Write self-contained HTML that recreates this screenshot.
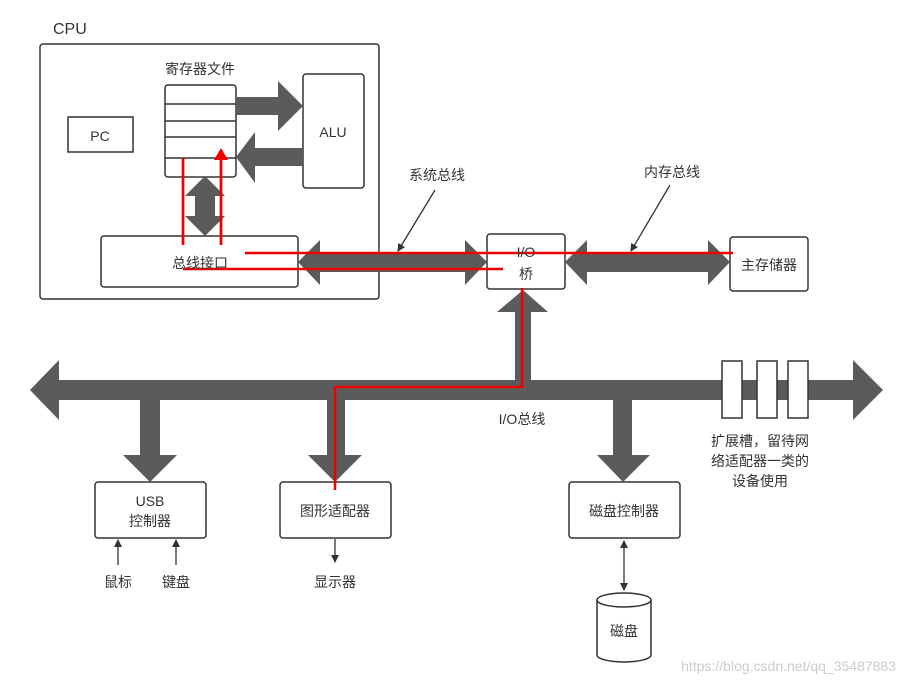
<!DOCTYPE html>
<html><head><meta charset="utf-8"><style>
body{margin:0;background:#fff}
text{font-family:"Liberation Sans","Noto Sans CJK SC",sans-serif;fill:#333;font-size:14px}
</style></head><body>
<svg width="905" height="685" xmlns="http://www.w3.org/2000/svg">
<defs><marker id="a" markerWidth="8" markerHeight="8" refX="7" refY="4" orient="auto" markerUnits="userSpaceOnUse"><path d="M0,0 L8,4 L0,8 Z" fill="#333"/></marker>
<marker id="b" markerWidth="8" markerHeight="8" refX="1" refY="4" orient="auto" markerUnits="userSpaceOnUse"><path d="M8,0 L0,4 L8,8 Z" fill="#333"/></marker></defs>
<g fill="none" stroke="#333" stroke-width="1.5">
<rect x="40" y="44" width="339" height="255" rx="3"/>
<rect x="68" y="117" width="65" height="35"/>
<rect x="165" y="85" width="71" height="92" rx="3"/>
<line x1="165" y1="104" x2="236" y2="104"/><line x1="165" y1="121" x2="236" y2="121"/><line x1="165" y1="137" x2="236" y2="137"/><line x1="165" y1="158" x2="236" y2="158"/>
<rect x="303" y="74" width="61" height="114" rx="3"/>
<rect x="101" y="236" width="197" height="51" rx="3"/>
<rect x="487" y="234" width="78" height="55" rx="3"/>
<rect x="730" y="237" width="78" height="54" rx="3"/>
<rect x="95" y="482" width="111" height="56" rx="3"/>
<rect x="280" y="482" width="111" height="56" rx="3"/>
<rect x="569" y="482" width="111" height="56" rx="3"/>
</g>
<g stroke="#e00" stroke-width="2.5" fill="none">
<line x1="183" y1="158" x2="183" y2="245"/>
<line x1="221" y1="158" x2="221" y2="245"/>
</g>
<g fill="#5b5b5b">
<polygon points="236,97 278,97 278,81 303,106 278,131 278,115 236,115"/>
<polygon points="303,148 255,148 255,132 236,157 255,183 255,166 303,166"/>
<polygon points="205,176 225,196 215,196 215,216 225,216 205,236 185,216 195,216 195,196 185,196"/>
<polygon points="298,262 320,240 320,252 465,252 465,240 487,262 465,285 465,272 320,272 320,285"/>
<polygon points="565,262 587,240 587,252 708,252 708,240 730,262 708,285 708,272 587,272 587,285"/>
<polygon points="30,390 59,360 59,380 853,380 853,360 883,390 853,420 853,400 59,400 59,420"/>
<polygon points="515,380 515,312 497,312 523,290 548,312 531,312 531,380"/>
<polygon points="140,400 160,400 160,455 177,455 150,482 123,455 140,455"/>
<polygon points="327,400 345,400 345,455 362,455 335,482 308,455 327,455"/>
<polygon points="613,400 632,400 632,455 650,455 623,482 597,455 613,455"/>
</g>
<g fill="#fff" stroke="#333" stroke-width="1.5">
<rect x="722" y="361" width="20" height="57"/><rect x="757" y="361" width="20" height="57"/><rect x="788" y="361" width="20" height="57"/>
<path d="M597,600 L597,655 A27,7 0 0 0 651,655 L651,600"/>
<ellipse cx="624" cy="600" rx="27" ry="7"/>
</g>
<g stroke="#e00" stroke-width="2.5" fill="none">
<line x1="183" y1="158" x2="183" y2="245"/>
<line x1="221" y1="158" x2="221" y2="245"/>
<line x1="245" y1="253" x2="733" y2="253"/>
<line x1="183" y1="269" x2="503" y2="269"/>
<polyline points="335,490 335,387 522,387 522,288"/>
</g>
<polygon points="214,160 221,148 228,160" fill="#e00"/>
<g stroke="#333" stroke-width="1.3" fill="none">
<line x1="435" y1="190" x2="398" y2="251" marker-end="url(#a)"/>
<line x1="670" y1="185" x2="631" y2="251" marker-end="url(#a)"/>
<line x1="118" y1="565" x2="118" y2="540" marker-end="url(#a)"/>
<line x1="176" y1="565" x2="176" y2="540" marker-end="url(#a)"/>
<line x1="335" y1="539" x2="335" y2="562" marker-end="url(#a)"/>
<line x1="624" y1="541" x2="624" y2="590" marker-end="url(#a)" marker-start="url(#b)"/>
</g>
<text x="53" y="34" style="font-size:16px">CPU</text>
<text x="200" y="74" text-anchor="middle">寄存器文件</text>
<text x="100" y="141" text-anchor="middle">PC</text>
<text x="333" y="137" text-anchor="middle">ALU</text>
<text x="200" y="268" text-anchor="middle">总线接口</text>
<text x="526" y="257" text-anchor="middle">I/O</text>
<text x="526" y="279" text-anchor="middle">桥</text>
<text x="769" y="270" text-anchor="middle">主存储器</text>
<text x="437" y="180" text-anchor="middle">系统总线</text>
<text x="672" y="177" text-anchor="middle">内存总线</text>
<text x="522" y="424" text-anchor="middle">I/O总线</text>
<text x="760" y="446" text-anchor="middle">扩展槽，留待网</text>
<text x="760" y="466" text-anchor="middle">络适配器一类的</text>
<text x="760" y="486" text-anchor="middle">设备使用</text>
<text x="150" y="506" text-anchor="middle">USB</text>
<text x="150" y="526" text-anchor="middle">控制器</text>
<text x="335" y="516" text-anchor="middle">图形适配器</text>
<text x="624" y="516" text-anchor="middle">磁盘控制器</text>
<text x="118" y="587" text-anchor="middle">鼠标</text>
<text x="176" y="587" text-anchor="middle">键盘</text>
<text x="335" y="587" text-anchor="middle">显示器</text>
<text x="624" y="636" text-anchor="middle">磁盘</text>
<text x="896" y="671" text-anchor="end" style="fill:#ccc;font-size:14px">https://blog.csdn.net/qq_35487883</text>
</svg>
</body></html>
